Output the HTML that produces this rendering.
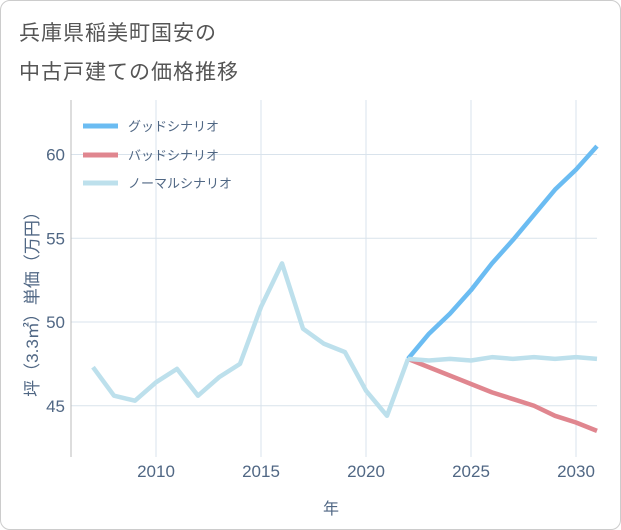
<!DOCTYPE html>
<html><head><meta charset="utf-8"><style>
body{margin:0;background:#fff;font-family:"Liberation Sans","Noto Sans CJK JP",sans-serif;}
#wrap{position:relative;width:619px;height:528px;border:1px solid #ccc;border-radius:10px;overflow:hidden;background:#fff}
.title{position:absolute;left:18px;font-size:21px;color:#555;letter-spacing:1px}
</style></head><body>
<div id="wrap">
<div class="title" style="top:16px">兵庫県稲美町国安の</div>
<div class="title" style="top:55px">中古戸建ての価格推移</div>
<svg id="svg" width="621" height="530" style="position:absolute;left:-1px;top:-1px"></svg>
</div>
<script>
const years=[2007,2008,2009,2010,2011,2012,2013,2014,2015,2016,2017,2018,2019,2020,2021,2022];
const hist=[47.3,45.6,45.3,46.4,47.2,45.6,46.7,47.5,50.9,53.5,49.6,48.7,48.2,45.9,44.4,47.8];
const futYears=[2022,2023,2024,2025,2026,2027,2028,2029,2030,2031];
const good=[47.8,49.3,50.5,51.9,53.5,54.9,56.4,57.9,59.1,60.5];
const bad=[47.8,47.3,46.8,46.3,45.8,45.4,45.0,44.4,44.0,43.5];
const normal=[47.8,47.7,47.8,47.7,47.9,47.8,47.9,47.8,47.9,47.8];
const xTicks=[2010,2015,2020,2025,2030];
const yTicks=[45,50,55,60];
const X=v=>156+(v-2010)*21;
const Y=v=>322-(v-50)*16.75;
const svg=document.getElementById('svg');
const NS='http://www.w3.org/2000/svg';
function mk(t,a,p){const e=document.createElementNS(NS,t);for(const k in a)e.setAttribute(k,a[k]);(p||svg).appendChild(e);return e;}
const L=71,R=597,T=100,B=457;
for(const t of xTicks){const g=mk('line',{x1:X(t),x2:X(t),y1:T,y2:B,stroke:'#d9e3ec'});
const tx=mk('text',{x:X(t),y:477,'text-anchor':'middle','font-size':17,fill:'#506784'});tx.textContent=t;

}
for(const t of yTicks){const g=mk('line',{x1:L,x2:R,y1:Y(t),y2:Y(t),stroke:'#d9e3ec'});
const tx=mk('text',{x:65,y:Y(t)+6,'text-anchor':'end','font-size':17,fill:'#506784'});tx.textContent=t;

}
const ax=mk('line',{x1:L,x2:L,y1:T,y2:B,stroke:'#bbb'});


function line(xs,ys,c,name){const p=mk('polyline',{points:xs.map((x,i)=>X(x)+','+Y(ys[i])).join(' '),fill:'none',stroke:c,'stroke-width':4.5,'stroke-linejoin':'round'});

}
line(futYears,good,'#6bbcf2','good-scenario-line');
line(futYears,bad,'#e0868f','bad-scenario-line');
line(years,hist,'#bde0ec','history-line');
line(futYears,normal,'#bde0ec','normal-scenario-line');
const leg=[['グッドシナリオ','#6bbcf2',126],['バッドシナリオ','#e0868f',155],['ノーマルシナリオ','#bde0ec',183]];
for(const [n,c,y] of leg){const l=mk('line',{x1:83,x2:118,y1:y,y2:y,stroke:c,'stroke-width':5});


const t=mk('text',{x:128,y:y+5,'font-size':13,fill:'#506784'});t.textContent=n;

}
const xt=mk('text',{x:331,y:514,'text-anchor':'middle','font-size':16,fill:'#506784'});xt.textContent='年';


const yt=mk('text',{x:0,y:0,'text-anchor':'middle','font-size':17,fill:'#506784',transform:'translate(38,300) rotate(-90)'});yt.textContent='坪（3.3㎡）単価（万円）';


</script>
</body></html>
